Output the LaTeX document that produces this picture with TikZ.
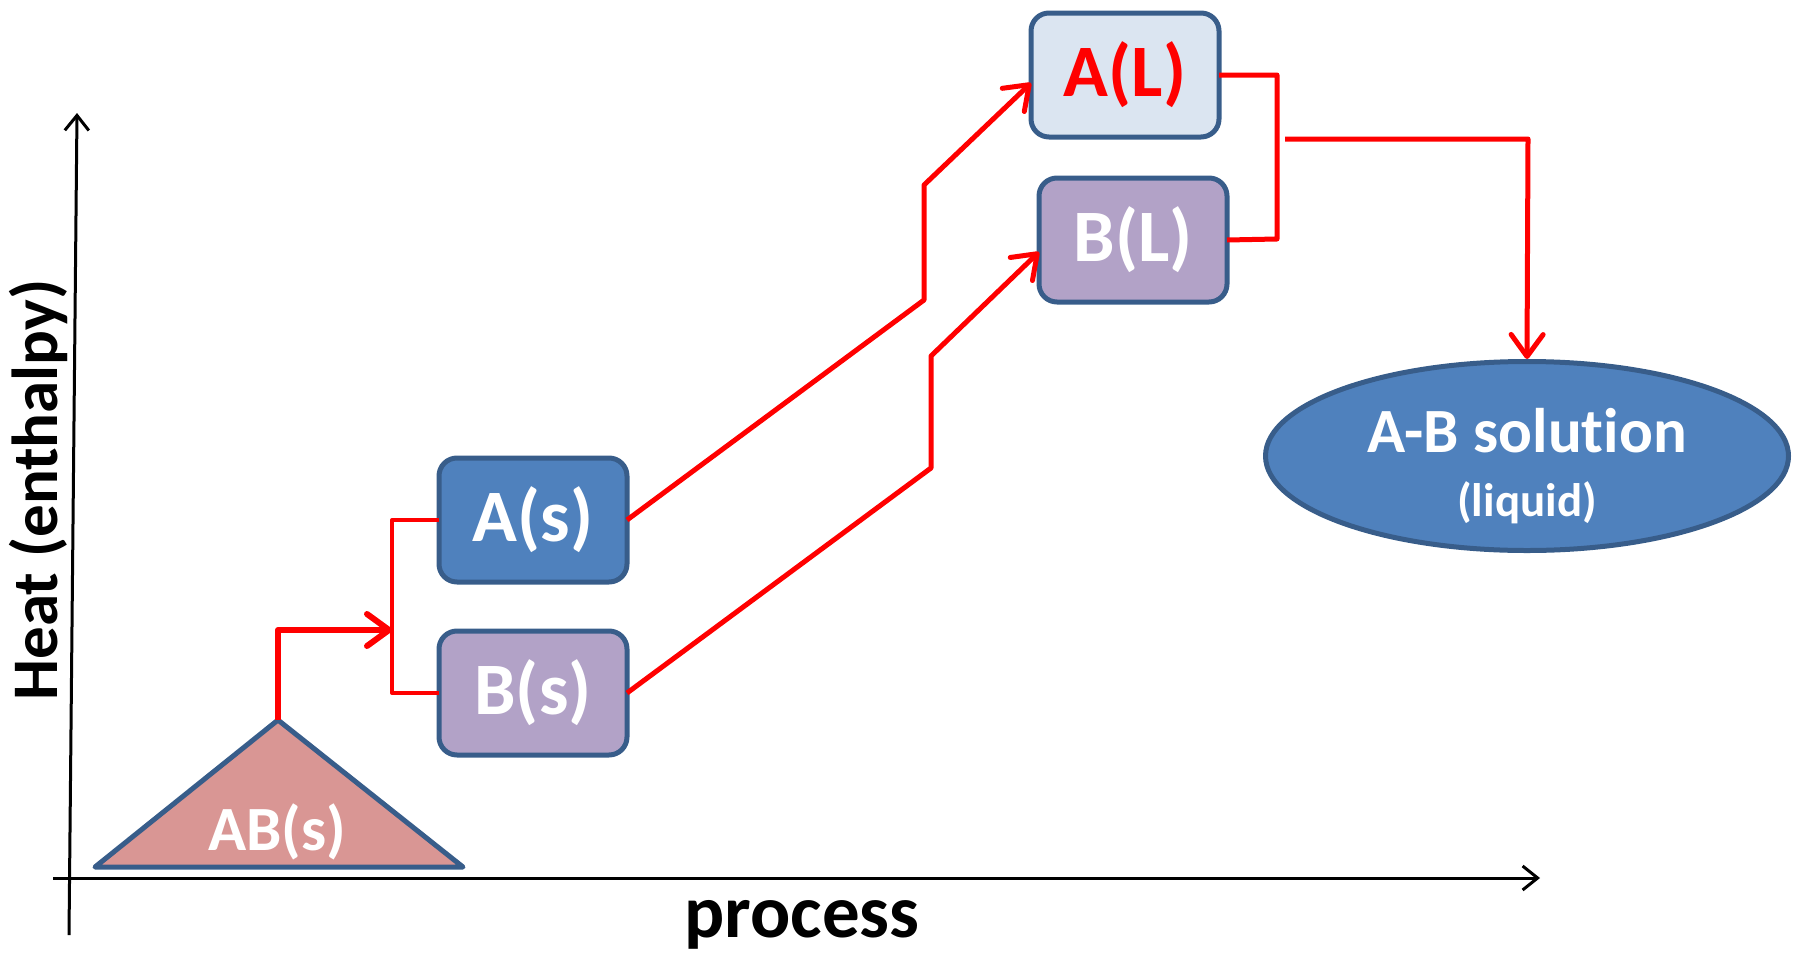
\documentclass[tikz,border=0pt]{standalone}
\usepackage{fontspec}
\setmainfont{Carlito}[Ligatures=NoCommon]
\usetikzlibrary{arrows.meta,shapes.geometric}
\definecolor{bord}{HTML}{385D8A}
\definecolor{blu}{HTML}{4F81BD}
\definecolor{lav}{HTML}{B2A2C7}
\definecolor{lblu}{HTML}{DBE5F1}
\definecolor{pinkf}{HTML}{D99694}
\begin{document}
\begin{tikzpicture}[x=1pt,y=-1pt,
  box/.style={draw=bord, line width=5pt, rounded corners=18pt, minimum width=188pt, minimum height=124pt, inner sep=0pt, outer sep=0pt, text=white, font=\bfseries\fontsize{74}{80}\selectfont},
  conn/.style={draw=red, line width=5pt, line join=round},
  arr/.style={-{Straight Barb[round,length=22pt,width=32pt]}},
  axisline/.style={line width=3pt, -{Straight Barb[length=15pt,width=24pt]}},
  lbl/.style={inner sep=0pt, outer sep=0pt, font=\bfseries\fontsize{#1}{#1}\selectfont}
]
\useasboundingbox (0,0) rectangle (1793,953);

% axes
\coordinate (xs) at (53,878);
\coordinate (xe) at (1540,878);
\coordinate (ys) at (69,935);
\coordinate (ye) at (77,113);
\draw[axisline] (xs) -- (xe);
\draw[axisline] (ys) -- (ye);
\node[lbl=65, rotate=90, anchor=base] (ylab) at (57,490) {Heat (enthalpy)};
\node[lbl=75, anchor=base] (xlab) at (802,937) {process};

% triangle AB(s)
\coordinate (tl) at (95,867);
\coordinate (apex) at (278,720);
\coordinate (tr) at (463,867);
\draw[draw=bord, fill=pinkf, line width=5pt, line join=round] (tl) -- (apex) -- (tr) -- cycle;
\node[lbl=63, text=white, anchor=base] (ab) at (277,850) {AB(s)};

% boxes
\node[box, fill=blu] (AS) at (533,520) {A(s)};
\node[box, fill=lav] (BS) at (533,693) {B(s)};
\node[box, fill=lblu, text=red] (AL) at (1125,75) {A(L)};
\node[box, fill=lav] (BL) at (1133,240) {B(L)};

% ellipse
\node[ellipse, draw=bord, fill=blu, line width=5pt, minimum width=523pt, minimum height=189pt, inner sep=0pt] (sol) at (1527,456) {};
\node[lbl=63, text=white, anchor=base] (soltxt) at (1527,452) {A-B solution};
\node[lbl=47, text=white, anchor=base] (liq) at (1527,516) {(liquid)};

% connectors
\coordinate (split) at (392,630);
\draw[conn, line width=6pt, arr] (apex) -- (278,630) -- (split);
\draw[conn, line width=4pt] (AS.west) -- (392,520) -- (392,693) -- (BS.west);
\draw[conn, arr] (AS.east) -- (924,300) -- (924,185) -- ([yshift=-8pt]AL.west);
\draw[conn, arr] (BS.east) -- (931,468) -- (931,356) -- ([yshift=-12pt]BL.west);
\draw[conn] (AL.east) -- (1277,75) -- (1277,239) -- (BL.east);
\coordinate (mix) at (1285,139);
\draw[conn, arr] (mix) -- (1528,139) -- (sol.north);
\end{tikzpicture}
\end{document}
